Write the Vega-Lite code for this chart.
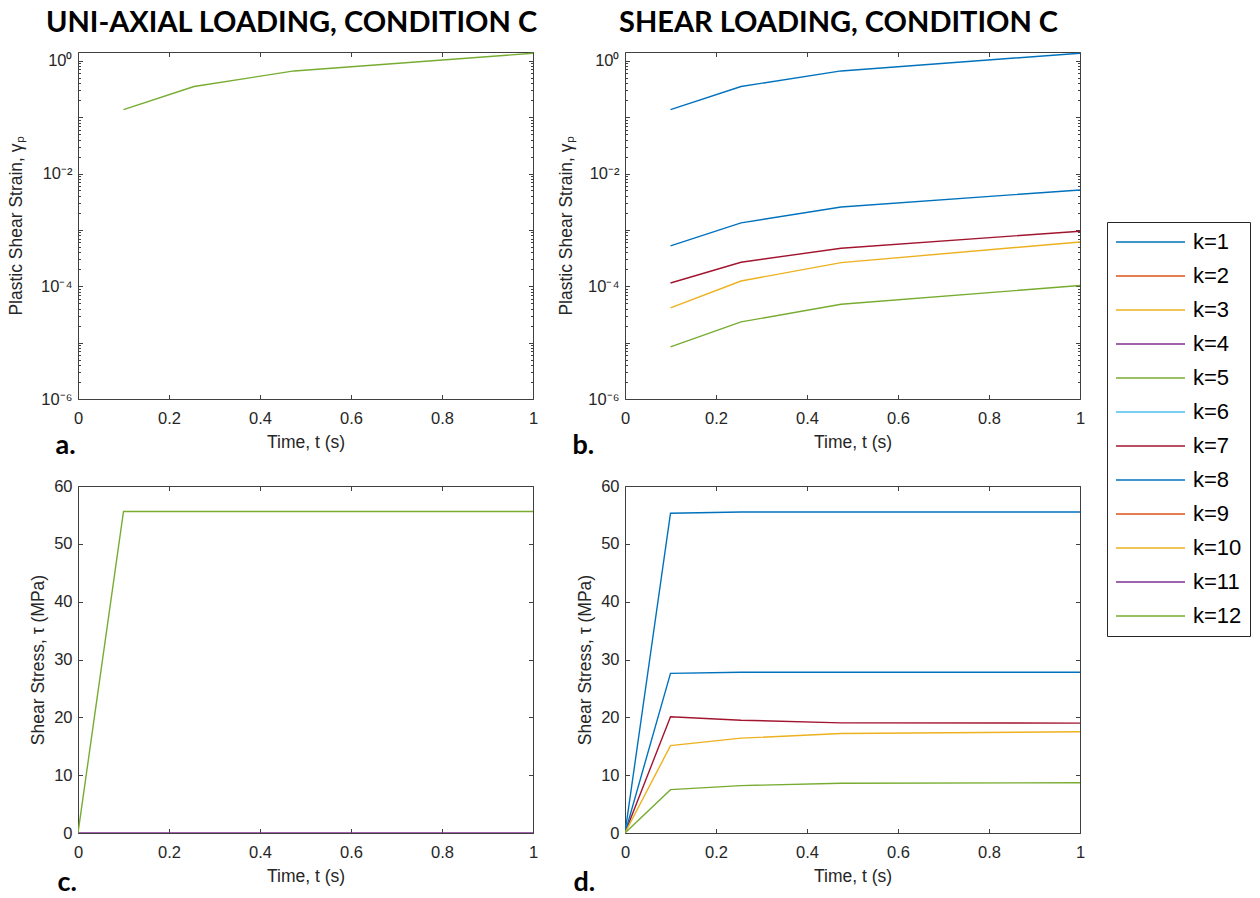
{
  "$schema": "https://vega.github.io/schema/vega-lite/v6.json",
  "background": "white",
  "padding": {"left": 7, "top": 8, "right": 4, "bottom": 2},
  "autosize": {"type": "pad"},
  "config": {
    "view": {"stroke": null},
    "font": "Liberation Sans",
    "axis": {
      "labelFont": "Liberation Sans",
      "titleFont": "Liberation Sans",
      "labelFontSize": 16.5,
      "titleFontSize": 17.5,
      "titleFontWeight": "normal",
      "labelColor": "#262626",
      "titleColor": "#262626",
      "domainColor": "#404040",
      "tickColor": "#404040",
      "domainWidth": 1,
      "tickWidth": 1,
      "grid": false,
      "labelOverlap": false,
      "labelFlush": false
    },
    "title": {
      "font": "Lato",
      "fontSize": 29,
      "fontWeight": "bold",
      "color": "black",
      "anchor": "middle",
      "frame": "group",
      "baseline": "alphabetic",
      "offset": 14
    },
    "legend": {
      "labelFont": "Liberation Sans",
      "labelFontSize": 22,
      "labelColor": "black",
      "labelBaseline": "middle",
      "symbolType": "stroke",
      "symbolSize": 4761,
      "symbolStrokeWidth": 2,
      "strokeColor": "#262626",
      "fillColor": "white",
      "padding": 8,
      "rowPadding": 10,
      "clipHeight": 24,
      "labelOffset": 7,
      "titleFontSize": 0,
      "titlePadding": 0
    },
    "line": {"strokeWidth": 1.4}
  },
  "datasets": {
    "uniStrain": [
      {"k": "k=12", "t": 0.1, "gamma": 0.136},
      {"k": "k=12", "t": 0.255, "gamma": 0.35},
      {"k": "k=12", "t": 0.475, "gamma": 0.66},
      {"k": "k=12", "t": 1.0, "gamma": 1.36}
    ],
    "shearStrain": [
      {"k": "k=1", "t": 0.1, "gamma": 0.136},
      {"k": "k=1", "t": 0.255, "gamma": 0.35},
      {"k": "k=1", "t": 0.475, "gamma": 0.66},
      {"k": "k=1", "t": 1.0, "gamma": 1.36},
      {"k": "k=7", "t": 0.1, "gamma": 0.000114},
      {"k": "k=7", "t": 0.255, "gamma": 0.000267},
      {"k": "k=7", "t": 0.475, "gamma": 0.000473},
      {"k": "k=7", "t": 1.0, "gamma": 0.000946},
      {"k": "k=8", "t": 0.1, "gamma": 0.00052},
      {"k": "k=8", "t": 0.255, "gamma": 0.00133},
      {"k": "k=8", "t": 0.475, "gamma": 0.00255},
      {"k": "k=8", "t": 1.0, "gamma": 0.0051},
      {"k": "k=10", "t": 0.1, "gamma": 0.0000412},
      {"k": "k=10", "t": 0.255, "gamma": 0.000124},
      {"k": "k=10", "t": 0.475, "gamma": 0.000263},
      {"k": "k=10", "t": 1.0, "gamma": 0.00061},
      {"k": "k=12", "t": 0.1, "gamma": 0.0000084},
      {"k": "k=12", "t": 0.255, "gamma": 0.0000233},
      {"k": "k=12", "t": 0.475, "gamma": 0.000048},
      {"k": "k=12", "t": 1.0, "gamma": 0.000103}
    ],
    "uniStress": [
      {"k": "k=11", "t": 0, "tau": 0},
      {"k": "k=11", "t": 0.1, "tau": 0},
      {"k": "k=11", "t": 0.255, "tau": 0},
      {"k": "k=11", "t": 0.475, "tau": 0},
      {"k": "k=11", "t": 1.0, "tau": 0},
      {"k": "k=12", "t": 0, "tau": 0},
      {"k": "k=12", "t": 0.1, "tau": 55.6},
      {"k": "k=12", "t": 0.255, "tau": 55.6},
      {"k": "k=12", "t": 0.475, "tau": 55.6},
      {"k": "k=12", "t": 1.0, "tau": 55.6}
    ],
    "shearStress": [
      {"k": "k=1", "t": 0, "tau": 0},
      {"k": "k=1", "t": 0.1, "tau": 55.3},
      {"k": "k=1", "t": 0.255, "tau": 55.5},
      {"k": "k=1", "t": 0.475, "tau": 55.5},
      {"k": "k=1", "t": 1.0, "tau": 55.5},
      {"k": "k=7", "t": 0, "tau": 0},
      {"k": "k=7", "t": 0.1, "tau": 20.1},
      {"k": "k=7", "t": 0.255, "tau": 19.5},
      {"k": "k=7", "t": 0.475, "tau": 19.05},
      {"k": "k=7", "t": 1.0, "tau": 19.0},
      {"k": "k=8", "t": 0, "tau": 0},
      {"k": "k=8", "t": 0.1, "tau": 27.6},
      {"k": "k=8", "t": 0.255, "tau": 27.8},
      {"k": "k=8", "t": 0.475, "tau": 27.8},
      {"k": "k=8", "t": 1.0, "tau": 27.8},
      {"k": "k=10", "t": 0, "tau": 0},
      {"k": "k=10", "t": 0.1, "tau": 15.1},
      {"k": "k=10", "t": 0.255, "tau": 16.4},
      {"k": "k=10", "t": 0.475, "tau": 17.2},
      {"k": "k=10", "t": 1.0, "tau": 17.5},
      {"k": "k=12", "t": 0, "tau": 0},
      {"k": "k=12", "t": 0.1, "tau": 7.5},
      {"k": "k=12", "t": 0.255, "tau": 8.2},
      {"k": "k=12", "t": 0.475, "tau": 8.6},
      {"k": "k=12", "t": 1.0, "tau": 8.7}
    ]
  },
  "bounds": "flush",
  "columns": 2,
  "spacing": {"row": 87, "column": 92},
  "concat": [
    {
      "width": 455,
      "height": 347,
      "title": {"text": "UNI-AXIAL LOADING, CONDITION C", "dx": -14},
      "data": {"name": "uniStrain"},
      "resolve": {"axis": {"x": "independent", "y": "independent"}},
      "layer": [
        {
          "mark": {"type": "line", "clip": true},
          "encoding": {
            "x": {"field": "t", "type": "quantitative", "scale": {"domain": [0, 1], "nice": false, "zero": false},
              "axis": {"orient": "bottom", "title": "Time, t (s)", "values": [0, 0.2, 0.4, 0.6, 0.8, 1], "format": "~g", "ticks": false, "labelPadding": 11, "titlePadding": 7}},
            "y": {"field": "gamma", "type": "quantitative", "scale": {"type": "log", "domain": [0.000001, 1.43], "nice": false},
              "axis": {"orient": "left", "title": "Plastic Shear Strain, γₚ", "values": [0.000001, 0.0001, 0.01, 1], "ticks": false, "labelPadding": 6, "titlePadding": 15,
                "labelExpr": "datum.value >= 0.5 ? '10⁰' : datum.value >= 0.005 ? '10⁻²' : datum.value >= 0.00005 ? '10⁻⁴' : '10⁻⁶'"}},
            "color": {"field": "k", "type": "nominal",
              "scale": {"domain": ["k=1", "k=2", "k=3", "k=4", "k=5", "k=6", "k=7", "k=8", "k=9", "k=10", "k=11", "k=12"],
                "range": ["#0072BD", "#D95319", "#EDB120", "#7E2F8E", "#77AC30", "#4DBEEE", "#A2142F", "#0072BD", "#D95319", "#EDB120", "#7E2F8E", "#77AC30"]},
              "legend": {"orient": "none", "legendX": 1029, "legendY": 170, "title": null}}
          }
        },
        {
          "mark": {"type": "line", "opacity": 0},
          "encoding": {
            "x": {"field": "t", "type": "quantitative", "axis": {"orient": "top", "labels": false, "title": null, "values": [0, 0.2, 0.4, 0.6, 0.8, 1], "tickSize": -4.5}},
            "y": {"field": "gamma", "type": "quantitative", "axis": {"orient": "right", "labels": false, "title": null, "values": [0.000001, 0.00001, 0.0001, 0.001, 0.01, 0.1, 1], "tickSize": -4.5}},
            "detail": {"field": "k"}
          }
        },
        {
          "mark": {"type": "line", "opacity": 0},
          "encoding": {
            "x": {"field": "t", "type": "quantitative", "axis": {"orient": "bottom", "labels": false, "domain": false, "values": [0, 0.2, 0.4, 0.6, 0.8, 1], "tickSize": -4.5,
              "title": "a.", "titleX": -23, "titleY": 54, "titleAlign": "left", "titleBaseline": "alphabetic", "titleFont": "Lato", "titleFontWeight": "bold", "titleFontSize": 27, "titleColor": "black"}},
            "y": {"field": "gamma", "type": "quantitative", "axis": {"orient": "left", "labels": false, "title": null, "domain": false, "values": [0.000001, 0.00001, 0.0001, 0.001, 0.01, 0.1, 1], "tickSize": -4.5}},
            "detail": {"field": "k"}
          }
        },
        {
          "mark": {"type": "line", "opacity": 0},
          "encoding": {
            "x": {"field": "t", "type": "quantitative", "axis": null},
            "y": {"field": "gamma", "type": "quantitative", "axis": {"orient": "left", "labels": false, "title": null, "domain": false, "tickSize": -2.5,
              "values": [2e-6, 3e-6, 4e-6, 5e-6, 6e-6, 7e-6, 8e-6, 9e-6, 2e-5, 3e-5, 4e-5, 5e-5, 6e-5, 7e-5, 8e-5, 9e-5, 2e-4, 3e-4, 4e-4, 5e-4, 6e-4, 7e-4, 8e-4, 9e-4, 2e-3, 3e-3, 4e-3, 5e-3, 6e-3, 7e-3, 8e-3, 9e-3, 2e-2, 3e-2, 4e-2, 5e-2, 6e-2, 7e-2, 8e-2, 9e-2, 0.2, 0.3, 0.4, 0.5, 0.6, 0.7, 0.8, 0.9]}},
            "detail": {"field": "k"}
          }
        },
        {
          "mark": {"type": "line", "opacity": 0},
          "encoding": {
            "x": {"field": "t", "type": "quantitative", "axis": null},
            "y": {"field": "gamma", "type": "quantitative", "axis": {"orient": "right", "labels": false, "title": null, "domain": false, "tickSize": -2.5,
              "values": [2e-6, 3e-6, 4e-6, 5e-6, 6e-6, 7e-6, 8e-6, 9e-6, 2e-5, 3e-5, 4e-5, 5e-5, 6e-5, 7e-5, 8e-5, 9e-5, 2e-4, 3e-4, 4e-4, 5e-4, 6e-4, 7e-4, 8e-4, 9e-4, 2e-3, 3e-3, 4e-3, 5e-3, 6e-3, 7e-3, 8e-3, 9e-3, 2e-2, 3e-2, 4e-2, 5e-2, 6e-2, 7e-2, 8e-2, 9e-2, 0.2, 0.3, 0.4, 0.5, 0.6, 0.7, 0.8, 0.9]}},
            "detail": {"field": "k"}
          }
        }
      ]
    },
    {
      "width": 455,
      "height": 347,
      "title": {"text": "SHEAR LOADING, CONDITION C", "dx": -14},
      "data": {"name": "shearStrain"},
      "resolve": {"axis": {"x": "independent", "y": "independent"}},
      "layer": [
        {
          "mark": {"type": "line", "clip": true},
          "encoding": {
            "x": {"field": "t", "type": "quantitative", "scale": {"domain": [0, 1], "nice": false, "zero": false},
              "axis": {"orient": "bottom", "title": "Time, t (s)", "values": [0, 0.2, 0.4, 0.6, 0.8, 1], "format": "~g", "ticks": false, "labelPadding": 11, "titlePadding": 7}},
            "y": {"field": "gamma", "type": "quantitative", "scale": {"type": "log", "domain": [0.000001, 1.43], "nice": false},
              "axis": {"orient": "left", "title": "Plastic Shear Strain, γₚ", "values": [0.000001, 0.0001, 0.01, 1], "ticks": false, "labelPadding": 6, "titlePadding": 12,
                "labelExpr": "datum.value >= 0.5 ? '10⁰' : datum.value >= 0.005 ? '10⁻²' : datum.value >= 0.00005 ? '10⁻⁴' : '10⁻⁶'"}},
            "color": {"field": "k", "type": "nominal",
              "scale": {"domain": ["k=1", "k=2", "k=3", "k=4", "k=5", "k=6", "k=7", "k=8", "k=9", "k=10", "k=11", "k=12"],
                "range": ["#0072BD", "#D95319", "#EDB120", "#7E2F8E", "#77AC30", "#4DBEEE", "#A2142F", "#0072BD", "#D95319", "#EDB120", "#7E2F8E", "#77AC30"]},
              "legend": {"orient": "none", "legendX": 1029, "legendY": 170, "title": null}}
          }
        },
        {
          "mark": {"type": "line", "opacity": 0},
          "encoding": {
            "x": {"field": "t", "type": "quantitative", "axis": {"orient": "top", "labels": false, "title": null, "values": [0, 0.2, 0.4, 0.6, 0.8, 1], "tickSize": -4.5}},
            "y": {"field": "gamma", "type": "quantitative", "axis": {"orient": "right", "labels": false, "title": null, "values": [0.000001, 0.00001, 0.0001, 0.001, 0.01, 0.1, 1], "tickSize": -4.5}},
            "detail": {"field": "k"}
          }
        },
        {
          "mark": {"type": "line", "opacity": 0},
          "encoding": {
            "x": {"field": "t", "type": "quantitative", "axis": {"orient": "bottom", "labels": false, "domain": false, "values": [0, 0.2, 0.4, 0.6, 0.8, 1], "tickSize": -4.5,
              "title": "b.", "titleX": -53, "titleY": 54, "titleAlign": "left", "titleBaseline": "alphabetic", "titleFont": "Lato", "titleFontWeight": "bold", "titleFontSize": 27, "titleColor": "black"}},
            "y": {"field": "gamma", "type": "quantitative", "axis": {"orient": "left", "labels": false, "title": null, "domain": false, "values": [0.000001, 0.00001, 0.0001, 0.001, 0.01, 0.1, 1], "tickSize": -4.5}},
            "detail": {"field": "k"}
          }
        },
        {
          "mark": {"type": "line", "opacity": 0},
          "encoding": {
            "x": {"field": "t", "type": "quantitative", "axis": null},
            "y": {"field": "gamma", "type": "quantitative", "axis": {"orient": "left", "labels": false, "title": null, "domain": false, "tickSize": -2.5,
              "values": [2e-6, 3e-6, 4e-6, 5e-6, 6e-6, 7e-6, 8e-6, 9e-6, 2e-5, 3e-5, 4e-5, 5e-5, 6e-5, 7e-5, 8e-5, 9e-5, 2e-4, 3e-4, 4e-4, 5e-4, 6e-4, 7e-4, 8e-4, 9e-4, 2e-3, 3e-3, 4e-3, 5e-3, 6e-3, 7e-3, 8e-3, 9e-3, 2e-2, 3e-2, 4e-2, 5e-2, 6e-2, 7e-2, 8e-2, 9e-2, 0.2, 0.3, 0.4, 0.5, 0.6, 0.7, 0.8, 0.9]}},
            "detail": {"field": "k"}
          }
        },
        {
          "mark": {"type": "line", "opacity": 0},
          "encoding": {
            "x": {"field": "t", "type": "quantitative", "axis": null},
            "y": {"field": "gamma", "type": "quantitative", "axis": {"orient": "right", "labels": false, "title": null, "domain": false, "tickSize": -2.5,
              "values": [2e-6, 3e-6, 4e-6, 5e-6, 6e-6, 7e-6, 8e-6, 9e-6, 2e-5, 3e-5, 4e-5, 5e-5, 6e-5, 7e-5, 8e-5, 9e-5, 2e-4, 3e-4, 4e-4, 5e-4, 6e-4, 7e-4, 8e-4, 9e-4, 2e-3, 3e-3, 4e-3, 5e-3, 6e-3, 7e-3, 8e-3, 9e-3, 2e-2, 3e-2, 4e-2, 5e-2, 6e-2, 7e-2, 8e-2, 9e-2, 0.2, 0.3, 0.4, 0.5, 0.6, 0.7, 0.8, 0.9]}},
            "detail": {"field": "k"}
          }
        }
      ]
    },
    {
      "width": 455,
      "height": 347,
      "data": {"name": "uniStress"},
      "resolve": {"axis": {"x": "independent", "y": "independent"}},
      "layer": [
        {
          "mark": {"type": "line", "clip": true},
          "encoding": {
            "x": {"field": "t", "type": "quantitative", "scale": {"domain": [0, 1], "nice": false},
              "axis": {"orient": "bottom", "title": "Time, t (s)", "values": [0, 0.2, 0.4, 0.6, 0.8, 1], "format": "~g", "ticks": false, "labelPadding": 11, "titlePadding": 7}},
            "y": {"field": "tau", "type": "quantitative", "scale": {"domain": [0, 60], "nice": false},
              "axis": {"orient": "left", "title": "Shear Stress, τ (MPa)", "values": [0, 10, 20, 30, 40, 50, 60], "ticks": false, "labelPadding": 6, "titlePadding": 6}},
            "color": {"field": "k", "type": "nominal",
              "scale": {"domain": ["k=1", "k=2", "k=3", "k=4", "k=5", "k=6", "k=7", "k=8", "k=9", "k=10", "k=11", "k=12"],
                "range": ["#0072BD", "#D95319", "#EDB120", "#7E2F8E", "#77AC30", "#4DBEEE", "#A2142F", "#0072BD", "#D95319", "#EDB120", "#7E2F8E", "#77AC30"]},
              "legend": {"orient": "none", "legendX": 1029, "legendY": 170, "title": null}}
          }
        },
        {
          "mark": {"type": "line", "opacity": 0},
          "encoding": {
            "x": {"field": "t", "type": "quantitative", "axis": {"orient": "top", "labels": false, "title": null, "values": [0, 0.2, 0.4, 0.6, 0.8, 1], "tickSize": -4.5}},
            "y": {"field": "tau", "type": "quantitative", "axis": {"orient": "right", "labels": false, "title": null, "values": [0, 10, 20, 30, 40, 50, 60], "tickSize": -4.5}},
            "detail": {"field": "k"}
          }
        },
        {
          "mark": {"type": "line", "opacity": 0},
          "encoding": {
            "x": {"field": "t", "type": "quantitative", "axis": {"orient": "bottom", "labels": false, "domain": false, "values": [0, 0.2, 0.4, 0.6, 0.8, 1], "tickSize": -4.5,
              "title": "c.", "titleX": -21, "titleY": 57, "titleAlign": "left", "titleBaseline": "alphabetic", "titleFont": "Lato", "titleFontWeight": "bold", "titleFontSize": 27, "titleColor": "black"}},
            "y": {"field": "tau", "type": "quantitative", "axis": {"orient": "left", "labels": false, "title": null, "domain": false, "values": [0, 10, 20, 30, 40, 50, 60], "tickSize": -4.5}},
            "detail": {"field": "k"}
          }
        }
      ]
    },
    {
      "width": 455,
      "height": 347,
      "data": {"name": "shearStress"},
      "resolve": {"axis": {"x": "independent", "y": "independent"}},
      "layer": [
        {
          "mark": {"type": "line", "clip": true},
          "encoding": {
            "x": {"field": "t", "type": "quantitative", "scale": {"domain": [0, 1], "nice": false},
              "axis": {"orient": "bottom", "title": "Time, t (s)", "values": [0, 0.2, 0.4, 0.6, 0.8, 1], "format": "~g", "ticks": false, "labelPadding": 11, "titlePadding": 7}},
            "y": {"field": "tau", "type": "quantitative", "scale": {"domain": [0, 60], "nice": false},
              "axis": {"orient": "left", "title": "Shear Stress, τ (MPa)", "values": [0, 10, 20, 30, 40, 50, 60], "ticks": false, "labelPadding": 6, "titlePadding": 6}},
            "color": {"field": "k", "type": "nominal",
              "scale": {"domain": ["k=1", "k=2", "k=3", "k=4", "k=5", "k=6", "k=7", "k=8", "k=9", "k=10", "k=11", "k=12"],
                "range": ["#0072BD", "#D95319", "#EDB120", "#7E2F8E", "#77AC30", "#4DBEEE", "#A2142F", "#0072BD", "#D95319", "#EDB120", "#7E2F8E", "#77AC30"]},
              "legend": {"orient": "none", "legendX": 1029, "legendY": 170, "title": null}}
          }
        },
        {
          "mark": {"type": "line", "opacity": 0},
          "encoding": {
            "x": {"field": "t", "type": "quantitative", "axis": {"orient": "top", "labels": false, "title": null, "values": [0, 0.2, 0.4, 0.6, 0.8, 1], "tickSize": -4.5}},
            "y": {"field": "tau", "type": "quantitative", "axis": {"orient": "right", "labels": false, "title": null, "values": [0, 10, 20, 30, 40, 50, 60], "tickSize": -4.5}},
            "detail": {"field": "k"}
          }
        },
        {
          "mark": {"type": "line", "opacity": 0},
          "encoding": {
            "x": {"field": "t", "type": "quantitative", "axis": {"orient": "bottom", "labels": false, "domain": false, "values": [0, 0.2, 0.4, 0.6, 0.8, 1], "tickSize": -4.5,
              "title": "d.", "titleX": -52, "titleY": 57, "titleAlign": "left", "titleBaseline": "alphabetic", "titleFont": "Lato", "titleFontWeight": "bold", "titleFontSize": 27, "titleColor": "black"}},
            "y": {"field": "tau", "type": "quantitative", "axis": {"orient": "left", "labels": false, "title": null, "domain": false, "values": [0, 10, 20, 30, 40, 50, 60], "tickSize": -4.5}},
            "detail": {"field": "k"}
          }
        }
      ]
    }
  ]
}
